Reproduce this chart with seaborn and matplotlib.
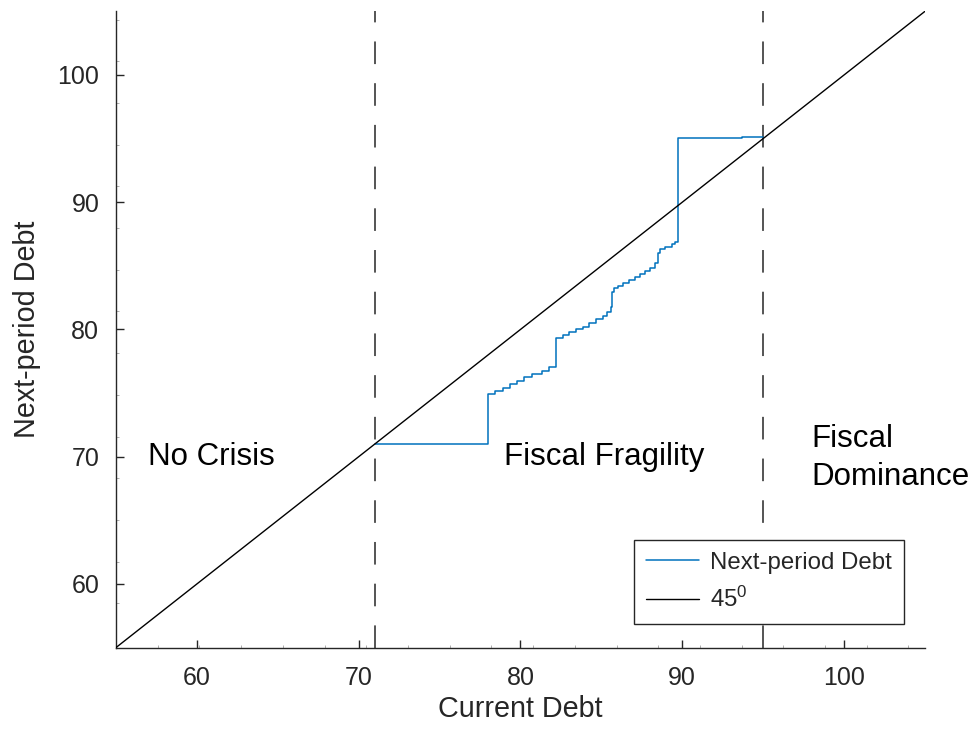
import numpy as np
import pandas as pd
import matplotlib
matplotlib.use("Agg")
import matplotlib.pyplot as plt
import seaborn as sns

# Debt policy: current debt grid points where each step begins, and next-period debt on that step
debt_grid = [71.0, 78.0, 78.43, 78.90, 79.35, 79.80, 80.24, 80.69, 81.31, 81.78,
             82.20, 82.65, 83.02, 83.43, 83.85, 84.26, 84.67, 85.08, 85.35, 85.58,
             85.66, 85.80, 86.01, 86.36, 86.71, 87.08, 87.39, 87.70, 88.01, 88.32,
             88.52, 88.63, 88.94, 89.35, 89.58, 89.72, 93.70, 95.0]
next_debt = [71.0, 74.90, 75.16, 75.43, 75.69, 75.95, 76.24, 76.50, 76.76, 77.03,
             79.30, 79.60, 79.83, 80.01, 80.22, 80.49, 80.80, 81.06, 81.35, 81.79,
             82.95, 83.24, 83.42, 83.68, 83.89, 84.10, 84.36, 84.62, 84.85, 85.20,
             85.99, 86.30, 86.50, 86.69, 86.90, 95.05, 95.15, 95.15]

# 45-degree reference line
diag = [55, 105]

# Regime thresholds
thresholds = [71.0, 95.0]

regime_labels = ["No Crisis", "Fiscal Fragility", "Fiscal\nDominance"]
regime_x = [57.0, 79.0, 98.0]
regime_y = [70.0, 70.0, 69.9]

x_ticks = [60, 70, 80, 90, 100]
y_ticks = [60, 70, 80, 90, 100]

sns.set_theme(style="white")
plt.rcParams["font.family"] = ["Liberation Sans", "DejaVu Sans"]
plt.rcParams["mathtext.default"] = "regular"

dark = "#262626"
blue = "#0072BD"

fig = plt.figure(figsize=(9.72, 7.36), dpi=100)
ax = fig.add_axes([0.1193, 0.1201, 0.8323, 0.8645])

policy = pd.DataFrame({"current": debt_grid, "next": next_debt})
sns.lineplot(data=policy, x="current", y="next", ax=ax, color=blue, lw=1.1,
             drawstyle="steps-post", label="Next-period Debt", zorder=3)
sns.lineplot(x=diag, y=diag, ax=ax, color="black", lw=1.0, label="45$^0$", zorder=4)

for t in thresholds:
    ax.plot([t, t], [55, 105], color=dark, lw=1.1, dashes=(14.8, 12.5), zorder=2)

for lab, xx, yy in zip(regime_labels, regime_x, regime_y):
    ax.text(xx, yy, lab, fontsize=22.5, color="black", ha="left", va="center",
            linespacing=1.35)

ax.set_xlim(55, 105)
ax.set_ylim(55, 105)
ax.set_xticks(x_ticks)
ax.set_yticks(y_ticks)
ax.set_xticks(55 + 2.578 * np.arange(1, 20), minor=True)
ax.set_yticks(55.2 + 3.277 * np.arange(1, 16), minor=True)

for side in ["top", "right"]:
    ax.spines[side].set_visible(False)
for side in ["left", "bottom"]:
    ax.spines[side].set_color(dark)
    ax.spines[side].set_linewidth(1.0)

ax.tick_params(axis="both", which="both", bottom=True, left=True, top=False, right=False)
ax.tick_params(axis="both", which="major", direction="in", length=5.5, width=1.0,
               color=dark, labelcolor=dark, labelsize=18)
ax.tick_params(axis="x", which="major", pad=13)
ax.tick_params(axis="y", which="major", pad=12)
ax.tick_params(axis="both", which="minor", direction="in", length=2.0, width=0.6,
               color="#a0a0a0")

ax.set_xlabel("Current Debt", fontsize=20.7, color=dark, labelpad=3.5)
ax.set_ylabel("Next-period Debt", fontsize=20.7, color=dark, labelpad=11.5)

leg = ax.legend(loc="lower right", bbox_to_anchor=(0.974, 0.037), borderaxespad=0,
                fontsize=17.3, frameon=True, fancybox=False, framealpha=1,
                edgecolor=dark, handlelength=2.2, handletextpad=0.45,
                borderpad=0.5, labelspacing=0.55)
leg.get_frame().set_linewidth(1.0)
leg.set_zorder(10)

fig.savefig("out.png", dpi=100)
